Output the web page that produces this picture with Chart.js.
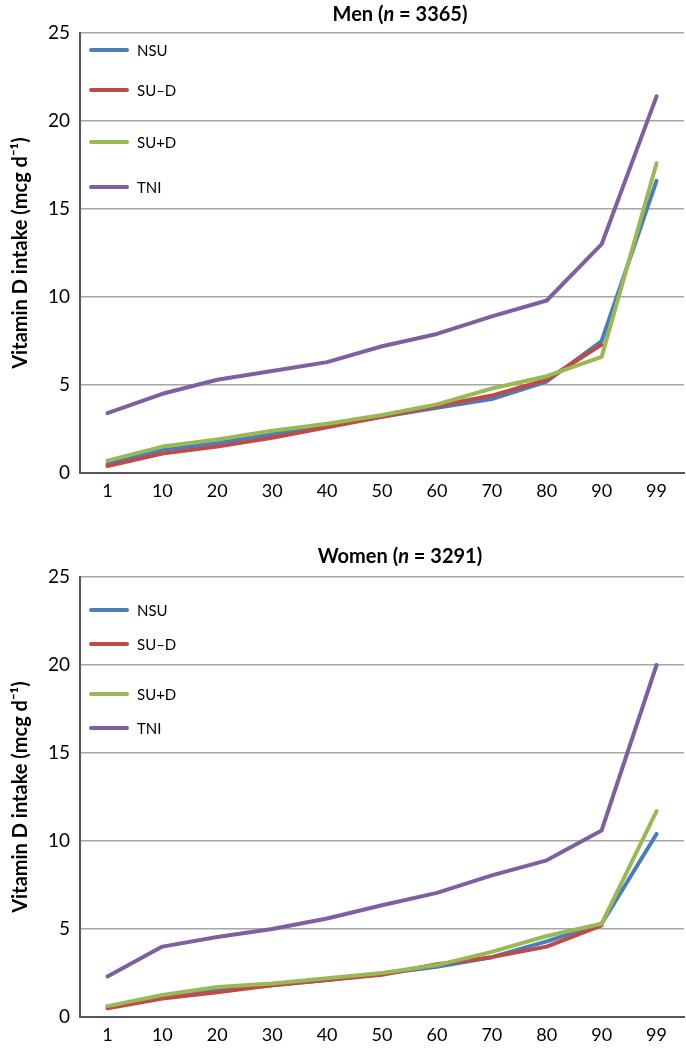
<!DOCTYPE html>
<html>
<head>
<meta charset="utf-8">
<script src="https://cdn.jsdelivr.net/npm/chart.js@4.4.1/dist/chart.umd.min.js"></script>
<style>
  html, body { margin: 0; padding: 0; background: #fff; }
  #wrap { position: relative; width: 686px; height: 1049px; }
  .box { position: absolute; left: 0; width: 686px; height: 505px; }
  #menBox { top: 0; }
  #womenBox { top: 544px; }
</style>
</head>
<body>
<div id="wrap">
  <div class="box" id="menBox"><canvas id="menChart"></canvas></div>
  <div class="box" id="womenBox"><canvas id="womenChart"></canvas></div>
</div>
<script>
// 백분위 (x축)
const percentiles = ['1', '10', '20', '30', '40', '50', '60', '70', '80', '90', '99'];
const yTicks = [0, 5, 10, 15, 20, 25];
const seriesNames = ['NSU', 'SU\u2013D', 'SU+D', 'TNI'];

// 남성 (n = 3365)
const menNSU  = [0.5, 1.3, 1.7, 2.2, 2.7, 3.2, 3.7, 4.2, 5.2, 7.5, 16.6];
const menSUnoD = [0.4, 1.1, 1.5, 2.0, 2.6, 3.2, 3.8, 4.4, 5.3, 7.3, null];
const menSUD  = [0.7, 1.5, 1.9, 2.4, 2.8, 3.3, 3.9, 4.8, 5.5, 6.6, 17.6];
const menTNI  = [3.4, 4.5, 5.3, 5.8, 6.3, 7.2, 7.9, 8.9, 9.8, 13.0, 21.4];

// 여성 (n = 3291)
const womenNSU  = [0.6, 1.1, 1.5, 1.8, 2.1, 2.45, 2.85, 3.4, 4.3, 5.3, 10.4];
const womenSUnoD = [0.5, 1.05, 1.4, 1.8, 2.1, 2.4, 3.0, 3.4, 4.0, 5.2, null];
const womenSUD  = [0.62, 1.25, 1.7, 1.9, 2.2, 2.5, 2.95, 3.7, 4.6, 5.3, 11.7];
const womenTNI  = [2.3, 4.0, 4.55, 5.0, 5.6, 6.35, 7.05, 8.05, 8.9, 10.6, 20.0];

const FONT = "Lato, 'Open Sans', sans-serif";
const COLORS = ['#4a7ebb', '#be4b48', '#98b954', '#7d60a0'];
const ORDERS = [4, 3, 2, 1]; // TNI 위에 그리기

/**
 * 제목 플러그인 (n 이탤릭)
 */
const titlePlugin = {
  id: 'panelTitle',
  afterDraw(chart, args, opts) {
    const ctx = chart.ctx;
    const parts = [
      { t: opts.label + ' (', f: 'bold 20px ' + FONT },
      { t: 'n', f: 'italic bold 20px ' + FONT },
      { t: ' = ' + opts.n + ')', f: 'bold 20px ' + FONT }
    ];
    ctx.save();
    let total = 0;
    parts.forEach(p => { ctx.font = p.f; p.w = ctx.measureText(p.t).width; total += p.w; });
    let x = opts.x - total / 2;
    ctx.fillStyle = '#000';
    ctx.textBaseline = 'middle';
    parts.forEach(p => {
      ctx.font = p.f;
      ctx.fillText(p.t, x, opts.y);
      x += p.w;
    });
    ctx.restore();
  }
};

/**
 * 범례 플러그인 (차트 영역 안쪽 왼쪽 위)
 */
const legendPlugin = {
  id: 'insideLegend',
  afterDraw(chart, args, opts) {
    const ctx = chart.ctx;
    const area = chart.chartArea;
    ctx.save();
    chart.data.datasets.forEach((ds, i) => {
      const y = area.top + opts.rows[i];
      ctx.strokeStyle = ds.borderColor;
      ctx.lineWidth = 4;
      ctx.lineCap = 'round';
      ctx.beginPath();
      ctx.moveTo(area.left + 11, y);
      ctx.lineTo(area.left + 47, y);
      ctx.stroke();
      ctx.fillStyle = '#000';
      ctx.font = '15px ' + FONT;
      ctx.textBaseline = 'middle';
      ctx.fillText(ds.label, area.left + 57, y + 1);
    });
    ctx.restore();
  }
};

function makeChart(canvasId, label, n, titleY, rows, seriesData) {
  const datasets = seriesData.map((data, i) => ({
    label: seriesNames[i],
    data: data,
    borderColor: COLORS[i],
    backgroundColor: COLORS[i],
    borderWidth: 4,
    pointRadius: 0,
    tension: 0,
    fill: false,
    spanGaps: false,
    borderCapStyle: 'round',
    borderJoinStyle: 'round',
    order: ORDERS[i]
  }));

  return new Chart(document.getElementById(canvasId), {
    type: 'line',
    data: { labels: percentiles, datasets: datasets },
    plugins: [titlePlugin, legendPlugin],
    options: {
      responsive: true,
      maintainAspectRatio: false,
      animation: false,
      layout: { padding: { top: 33, right: 2, left: 0, bottom: 0 } },
      plugins: {
        legend: { display: false },
        title: { display: false },
        tooltip: { enabled: false },
        panelTitle: { label: label, n: n, x: 400, y: titleY },
        insideLegend: { rows: rows }
      },
      scales: {
        x: {
          offset: true,
          grid: { display: false, drawTicks: false },
          border: { display: true, color: '#595959', width: 2 },
          ticks: {
            font: { family: FONT, size: 18 },
            color: '#000',
            padding: 7,
            maxRotation: 0,
            autoSkip: false
          },
          afterFit: s => { s.height = 32; }
        },
        y: {
          min: 0,
          max: 25,
          afterBuildTicks: s => { s.ticks = yTicks.map(v => ({ value: v })); },
          grid: { color: '#a6a6a6', lineWidth: 1.5, drawTicks: false },
          border: { display: true, color: '#595959', width: 2 },
          ticks: {
            font: { family: FONT, size: 19 },
            color: '#000',
            padding: 10
          },
          title: {
            display: true,
            text: 'Vitamin D intake (mcg d\u207B\u00B9)',
            color: '#000',
            font: { family: FONT, size: 20, weight: 'bold' },
            padding: { top: 9, bottom: 0 }
          },
          afterFit: s => { s.width = 80; }
        }
      }
    }
  });
}

makeChart('menChart', 'Men', '3365', 15, [17, 57, 109, 154],
  [menNSU, menSUnoD, menSUD, menTNI]);
makeChart('womenChart', 'Women', '3291', 13, [33, 67, 117, 151],
  [womenNSU, womenSUnoD, womenSUD, womenTNI]);
</script>
</body>
</html>
